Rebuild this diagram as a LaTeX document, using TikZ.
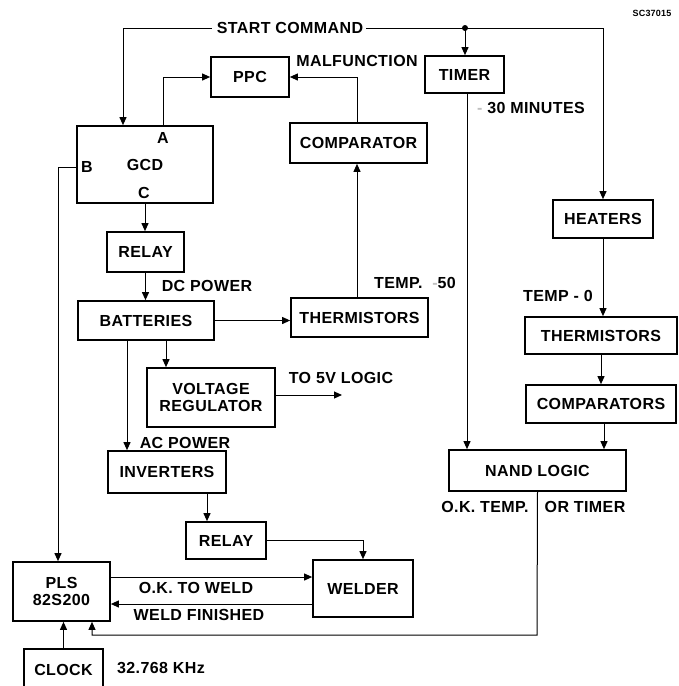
\documentclass[tikz,border=0pt]{standalone}
\usepackage{fontspec}
\setmainfont[LetterSpace=2.5]{Liberation Sans}
\usetikzlibrary{arrows.meta}
\begin{document}
\begin{tikzpicture}
[x=1pt,y=-1pt,
  every node/.style={font=\fontsize{16}{17.5}\selectfont\bfseries},
  blockdecorate/.style={shape=rectangle,draw,line width=1.7pt,inner sep=0pt,align=center},
  labeldecorate/.style={inner sep=0pt,align=center},
  linedecorate/.style={-,line width=1pt},
  arrowdecorate/.style={-{Triangle[length=8pt,width=7pt]},line width=1pt}]
\useasboundingbox (0,0) rectangle (679,686);
%% blocks
\foreach \nodename/\x/\y/\w/\h/\caption in {gcd/145/164.5/136/77/GCD,
  ppc/250/77/78/40/PPC, comparator/358.5/143/137/40/COMPARATOR,
  timer/464.5/74.5/79/37/TIMER, heaters/603/219/100/38/HEATERS,
  thermr/601/335.5/152/37/THERMISTORS, comparators/601/404/150/38/COMPARATORS,
  nand/537.5/470.5/177/41/NAND LOGIC, relayone/145.5/252/77/40/RELAY,
  batteries/146/320.5/136/39/BATTERIES, thermm/359.5/317.5/137/39/THERMISTORS,
  vreg/211/397.5/128/59/{VOLTAGE\\REGULATOR}, inverters/167/472/118/42/INVERTERS,
  relaytwo/226/540.5/80/37/RELAY, welder/363/588.5/100/57/WELDER,
  pls/61.5/591.5/97/59/{PLS\\82S200}, clock/63.5/669.5/79/41/CLOCK}
{
  \node (\nodename) at (\x,\y) [blockdecorate,minimum width=\w pt,minimum height=\h pt] {\caption};
}
%% texts
\foreach \nodename/\x/\y/\caption in {laba/163/138/A, labb/87/167/B, labc/144/193/C,
  start/290/28/START COMMAND, malf/357/61/MALFUNCTION,
  minutes/531/108/{\textcolor{lightgray}{-}\ 30 MINUTES},
  tempm/415/283/{TEMP.\ \ \textcolor{lightgray}{-}50}, dcpower/207/286/DC POWER,
  tempr/558/296/TEMP - 0, tologic/341/378/TO 5V LOGIC, acpower/185/443/AC POWER,
  oktemp/485/507/O.K. TEMP., ortimer/585/507/OR TIMER,
  okweld/196/588/O.K. TO WELD, weldfin/199/615/WELD FINISHED, khz/161/668/32.768 KHz}
{
  \node (\nodename) at (\x,\y) [labeldecorate] {\caption};
}
\node (code) at (652,13) [labeldecorate,font=\fontsize{9}{10}\selectfont\bfseries] {SC37015};
%% lines
\coordinate (split) at (465,28);
\coordinate (logicend) at (342,395);
\coordinate (nandturn) at (537,635);
\draw[arrowdecorate] ([xshift=-5pt]start.west) -| ([xshift=-22pt]gcd.north);
\draw[linedecorate] ([xshift=3pt]start.east) -- (split);
\fill (split) circle (3pt);
\draw[arrowdecorate] (split) -- (split |- timer.north);
\draw[arrowdecorate] (split) -| (heaters.north);
\draw[arrowdecorate] (laba |- gcd.north) |- (ppc.west);
\draw[arrowdecorate] ([xshift=-1.5pt]comparator.north) |- (ppc.east);
\draw[arrowdecorate] ([xshift=-2.5pt]thermm.north) -- ([xshift=-2.5pt]thermm.north |- comparator.south);
\draw[arrowdecorate] (batteries.east) -- (batteries.east -| thermm.west);
\draw[arrowdecorate] (gcd.south) -- (gcd.south |- relayone.north);
\draw[arrowdecorate] (relayone.south) -- (relayone.south |- batteries.north);
\draw[arrowdecorate] ([xshift=20pt]batteries.south) -- ([xshift=20pt]batteries.south |- vreg.north);
\draw[arrowdecorate] ([xshift=-19pt]batteries.south) -- ([xshift=-19pt]batteries.south |- inverters.north);
\draw[arrowdecorate] (vreg.east |- logicend) -- (logicend);
\draw[arrowdecorate] ([xshift=40pt]inverters.south) -- ([xshift=40pt]inverters.south |- relaytwo.north);
\draw[arrowdecorate] (relaytwo.east) -| (welder.north);
\draw[arrowdecorate] ([yshift=14.5pt]pls.east) -- ([yshift=14.5pt]pls.east -| welder.west);
\draw[arrowdecorate] ([yshift=-12.5pt]welder.west |- pls.east) -- ([yshift=-12.5pt]pls.east);
\draw[arrowdecorate] (clock.north) -- (clock.north |- pls.south);
\draw[arrowdecorate] ([yshift=-2.5pt]gcd.west) -| ([xshift=-3.5pt]pls.north);
\draw[arrowdecorate] (nand.south) -- (nandturn) -| ([xshift=30.5pt]pls.south);
\draw[arrowdecorate] ([xshift=2.5pt]timer.south) -- ([xshift=2.5pt]timer.south |- nand.north);
\draw[arrowdecorate] (heaters.south) -- (heaters.south |- thermr.north);
\draw[arrowdecorate] (thermr.south) -- (thermr.south |- comparators.north);
\draw[arrowdecorate] ([xshift=3pt]comparators.south) -- ([xshift=3pt]comparators.south |- nand.north);
\end{tikzpicture}
\end{document}
